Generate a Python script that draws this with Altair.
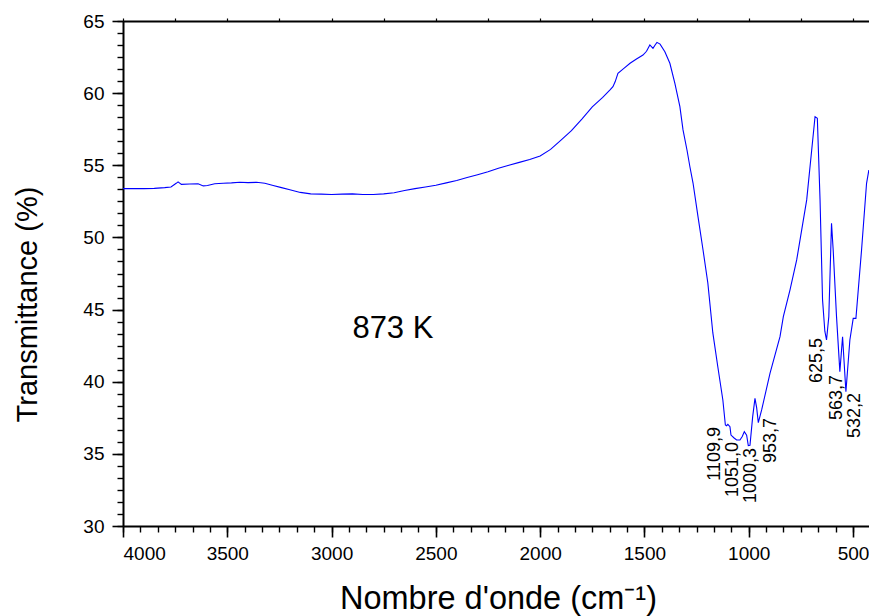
import altair as alt
import pandas as pd

# ---- spectrum ----
wavenumber = [4000, 3900, 3850, 3800, 3770, 3745, 3736, 3720, 3680, 3640, 3615, 3595, 3560,
              3520, 3480, 3440, 3400, 3360, 3320, 3280, 3240, 3200, 3150, 3100, 3050, 3000,
              2950, 2900, 2850, 2800, 2750, 2700, 2650, 2600, 2550, 2500, 2450, 2400, 2350,
              2300, 2250, 2200, 2150, 2100, 2050, 2000, 1950, 1900, 1850, 1800, 1750, 1700,
              1665, 1651, 1640, 1627, 1600, 1569, 1540, 1507, 1490, 1474, 1459, 1448, 1440,
              1425, 1402, 1378, 1354, 1330, 1315, 1296, 1282, 1267, 1243, 1219, 1196, 1172,
              1148, 1124, 1112, 1106, 1100, 1090, 1085, 1070, 1058, 1042, 1031, 1021, 1010,
              1002, 994, 981, 970, 962, 954, 938, 898, 850, 834, 802, 770, 722, 698, 682,
              671, 658, 646, 635, 627, 616, 603, 595, 579, 563, 550, 534, 515, 499, 486, 459,
              435, 424]
transmittance = [53.38, 53.38, 53.40, 53.45, 53.50, 53.75, 53.85, 53.68, 53.70, 53.72, 53.57,
                 53.60, 53.72, 53.76, 53.78, 53.82, 53.80, 53.82, 53.76, 53.60, 53.45, 53.30,
                 53.12, 53.02, 53.00, 52.98, 53.00, 53.02, 52.98, 52.98, 53.02, 53.10, 53.25,
                 53.38, 53.50, 53.62, 53.78, 53.95, 54.15, 54.35, 54.55, 54.80, 55.00, 55.20,
                 55.40, 55.65, 56.10, 56.75, 57.40, 58.20, 59.05, 59.70, 60.22, 60.45, 60.80,
                 61.38, 61.70, 62.07, 62.35, 62.64, 62.90, 63.34, 63.10, 63.35, 63.52, 63.40,
                 62.87, 62.07, 60.68, 59.06, 57.45, 56.06, 54.90, 53.77, 51.42, 49.13, 46.84,
                 43.38, 41.02, 38.73, 37.00, 36.95, 37.05, 36.88, 36.30, 36.10, 35.96, 35.96,
                 36.20, 36.54, 36.30, 35.57, 35.60, 37.58, 38.85, 38.20, 37.16, 38.04, 40.58,
                 43.12, 44.51, 46.36, 48.44, 52.60, 56.06, 58.37, 58.26, 52.60, 45.67, 43.50,
                 42.89, 44.51, 50.98, 49.13, 44.51, 40.70, 43.12, 39.31, 42.89, 44.39, 44.39,
                 49.13, 53.75, 54.67]

# ---- peak annotations ----
peak_text = ["1109,9", "1051,0", "1000,3", "953,7", "625,5", "563,7", "532,2"]
peak_text_x = [1162, 1073, 987, 891, 675, 579, 491]
peak_text_y = [36.86, 35.82, 35.41, 37.49, 43.03, 40.47, 39.22]

sample_text = ["873 K"]
sample_x = [2706]
sample_y = [43.66]

# ---- axis ticks ----
x_major = [4000, 3500, 3000, 2500, 2000, 1500, 1000, 500]
x_minor = [round(4000 - k * 500 / 6, 3) for k in range(0, 43)]
x_top = [4000 - 250 * k for k in range(0, 15)]
y_major = [30, 35, 40, 45, 50, 55, 60, 65]
y_minor = [round(30 + k * 5 / 6, 3) for k in range(0, 43)]

FONT = "Liberation Sans"

df = pd.DataFrame({"wn": wavenumber, "t": transmittance})
lab = pd.DataFrame({"wn": peak_text_x, "t": peak_text_y, "txt": peak_text})
samp = pd.DataFrame({"wn": sample_x, "t": sample_y, "txt": sample_text})

xscale = alt.Scale(domain=[423.3, 4000], reverse=True, nice=False, zero=False)
yscale = alt.Scale(domain=[30, 65], nice=False, zero=False)

line = alt.Chart(df).mark_line(color="#0000ff", strokeWidth=1.1, clip=True).encode(
    x=alt.X("wn:Q", scale=xscale, axis=alt.Axis(
        orient="bottom", values=x_major, format="d", tickSize=11, tickWidth=1.6,
        domainWidth=2, domainColor="black", tickColor="black", grid=False,
        labelFont=FONT, labelFontSize=19, labelColor="black", labelPadding=7,
        title="Nombre d'onde (cm\u207b\u00b9)", titleFont=FONT, titleFontSize=32.5,
        titleFontWeight="normal", titleColor="black", titleX=375, titleY=82,
        titleAlign="center", titleBaseline="alphabetic")),
    y=alt.Y("t:Q", scale=yscale, axis=alt.Axis(
        orient="left", values=y_major, tickSize=11, tickWidth=1.6,
        domainWidth=2, domainColor="black", tickColor="black", grid=False,
        labelFont=FONT, labelFontSize=19, labelColor="black", labelPadding=8,
        title="Transmittance (%)", titleFont=FONT, titleFontSize=29,
        titleFontWeight="normal", titleColor="black", titleX=-96, titleY=283,
        titleAngle=270, titleAlign="center", titleBaseline="middle")),
)

minor = alt.Chart(df).mark_point(opacity=0).encode(
    x=alt.X("wn:Q", scale=xscale, axis=alt.Axis(
        orient="bottom", values=x_minor, labels=False, tickSize=6, tickWidth=1.4,
        tickColor="black", domain=False, grid=False, title=None)),
    y=alt.Y("t:Q", scale=yscale, axis=alt.Axis(
        orient="left", values=y_minor, labels=False, tickSize=6, tickWidth=1.4,
        tickColor="black", domain=False, grid=False, title=None)),
)

top = alt.Chart(df).mark_point(opacity=0).encode(
    x=alt.X("wn:Q", scale=xscale, axis=alt.Axis(
        orient="top", values=x_top, labels=False, tickSize=3, tickWidth=1.2,
        tickColor="black", domainWidth=2, domainColor="black", grid=False, title=None)),
    y=alt.Y("t:Q", scale=yscale, axis=None),
)

peaks = alt.Chart(lab).mark_text(
    angle=270, align="right", baseline="middle", font=FONT, fontSize=18, color="black"
).encode(
    x=alt.X("wn:Q", scale=xscale, axis=None),
    y=alt.Y("t:Q", scale=yscale, axis=None),
    text="txt:N",
)

sample = alt.Chart(samp).mark_text(
    align="center", baseline="middle", font=FONT, fontSize=31, color="black"
).encode(
    x=alt.X("wn:Q", scale=xscale, axis=None),
    y=alt.Y("t:Q", scale=yscale, axis=None),
    text="txt:N",
)

chart = alt.layer(line, minor, top, peaks, sample).resolve_axis(
    x="independent", y="independent"
).properties(
    width=746, height=505,
    autosize=alt.AutoSizeParams(type="none"),
    padding={"left": 123, "top": 21, "right": 0, "bottom": 90},
    background="white",
).configure_view(stroke=None)

chart.save("out.html", embed_options={"renderer": "svg", "actions": False})
